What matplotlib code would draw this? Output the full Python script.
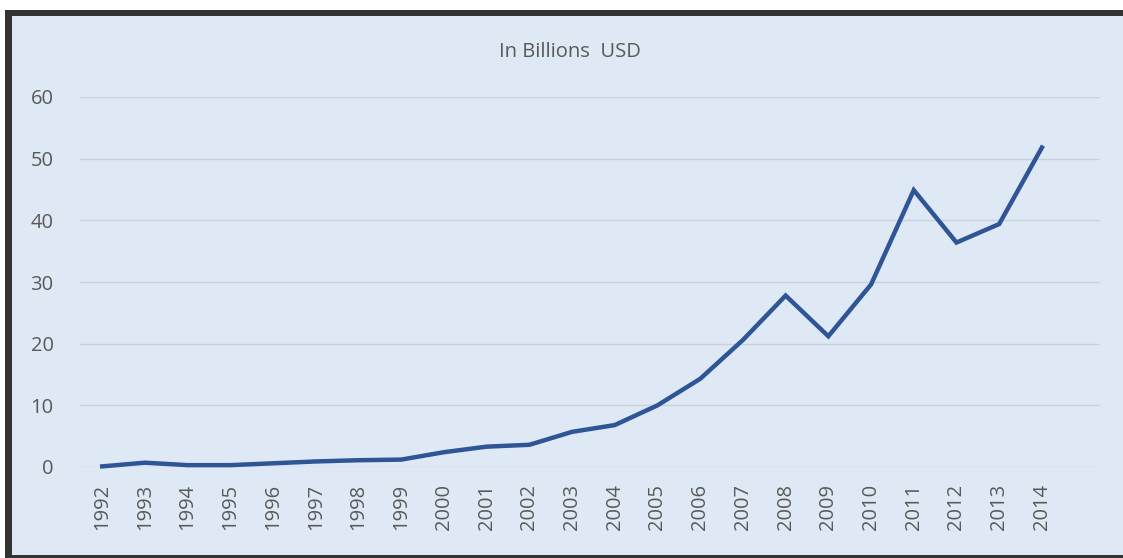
import matplotlib.pyplot as plt
import matplotlib.patches as patches

years = [str(y) for y in range(1992, 2015)]
values = [0.1, 0.7, 0.3, 0.3, 0.6, 0.9, 1.1, 1.2, 2.4, 3.3, 3.6, 5.7, 6.8,
          10.0, 14.3, 20.6, 27.8, 21.2, 29.6, 44.9, 36.4, 39.4, 51.8]
yticks = [0, 10, 20, 30, 40, 50, 60]

bg = "#dee9f5"
txt = "#595959"

fig = plt.figure(figsize=(11.23, 5.58), dpi=100)
fig.patch.set_facecolor("white")

# light panel with dark frame on top, left and bottom
fig.patches.append(patches.Rectangle((5/1123, 0), 1 - 5/1123, 1 - 10/558,
                                     transform=fig.transFigure, facecolor="#333333",
                                     edgecolor="none", zorder=-2))
fig.patches.append(patches.Rectangle((12/1123, 3/558), 1, 1 - 19/558,
                                     transform=fig.transFigure, facecolor=bg,
                                     edgecolor="none", zorder=-1))

ax = fig.add_axes([80/1123, 91/558, 1020/1123, 370/558])
ax.set_zorder(2)
ax.set_facecolor("none")
x = list(range(len(years)))
ax.plot(x, values, color="#2f5597", lw=3.2, solid_joinstyle="miter", clip_on=False, zorder=3)

ax.set_xlim(-0.52, 23.36)
ax.set_ylim(0, 60)
ax.set_yticks(yticks)
ax.set_xticks(x)
ax.set_xticklabels(years, rotation=90, fontsize=14.5, color=txt, family="Open Sans")
ax.set_yticklabels([str(t) for t in yticks], fontsize=14.5, color=txt, family="Open Sans")
ax.tick_params(length=0)
ax.tick_params(axis="x", pad=12)
ax.tick_params(axis="y", pad=19)
ax.grid(axis="y", color="#c8d2dd", lw=1)
ax.set_axisbelow(True)
for s in ax.spines.values():
    s.set_visible(False)

fig.text(570/1123, 1 - 52/558, "In Billions  USD", ha="center", va="center",
         fontsize=14.5, color=txt, family="Open Sans", zorder=3)

fig.savefig("out.png", dpi=100)
